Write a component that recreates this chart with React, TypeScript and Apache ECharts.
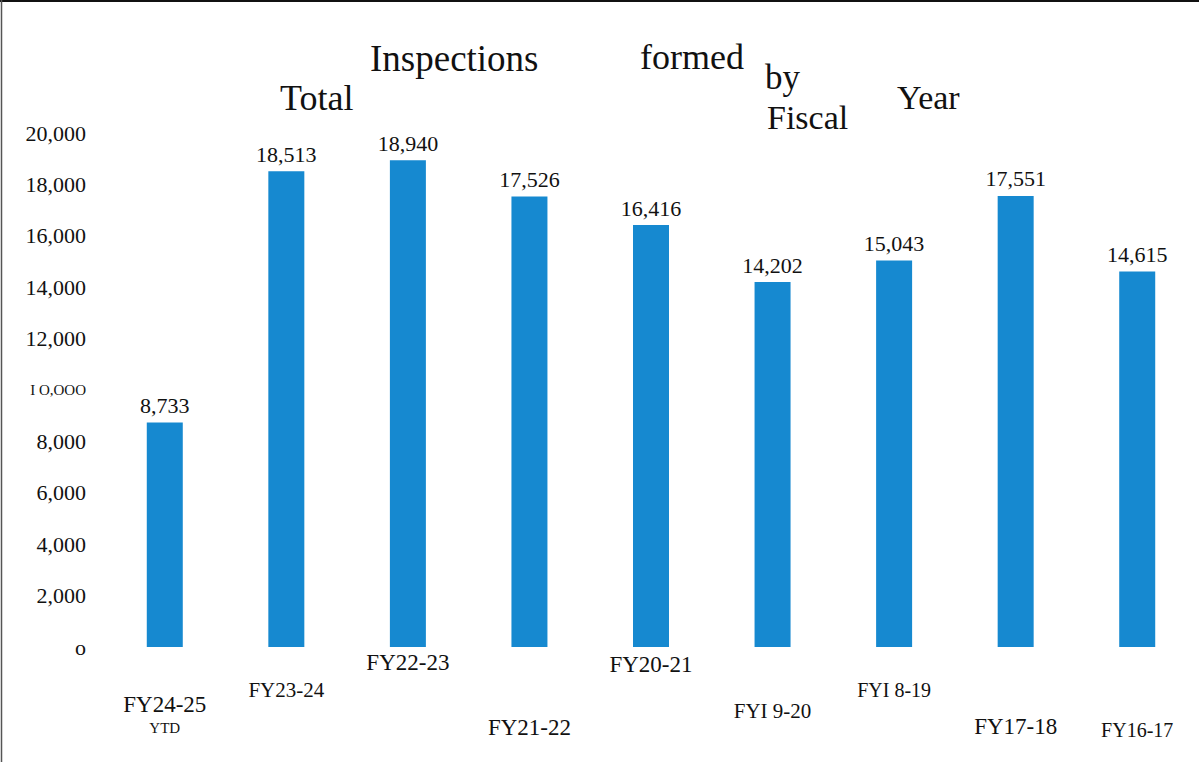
import React, { useEffect, useRef } from "react";
import * as echarts from "echarts";

const categories = ["FY24-25", "FY23-24", "FY22-23", "FY21-22", "FY20-21", "FYI 9-20", "FYI 8-19", "FY17-18", "FY16-17"];
const inspections = [8733, 18513, 18940, 17526, 16416, 14202, 15043, 17551, 14615];
const valueLabels = ["8,733", "18,513", "18,940", "17,526", "16,416", "14,202", "15,043", "17,551", "14,615"];
const yTickLabels = ["o", "2,000", "4,000", "6,000", "8,000", "I O,OOO", "12,000", "14,000", "16,000", "18,000", "20,000"];
const subNote = "YTD";
const titleWords = ["Total", "Inspections", "formed", "by", "Fiscal", "Year"];

// styling only: vertical drop (px) and font size of each category label
const labelDrop = [59, 45, 17, 82, 19, 66, 46, 81, 86];
const labelSize = [23, 21, 23, 23, 23, 21, 20, 23, 20];

const FONT = "'Liberation Serif', 'DejaVu Serif', serif";

export default function App() {
  const ref = useRef<HTMLDivElement>(null);
  useEffect(() => {
    document.body.style.margin = "0";
    const chart = echarts.init(ref.current!, null, { renderer: "svg" });
    const rich: any = {
      ytd: { fontSize: 15, fontFamily: FONT, color: "#111", lineHeight: 22 },
    };
    categories.forEach((_, i) => {
      rich["c" + i] = {
        fontSize: labelSize[i],
        fontFamily: FONT,
        color: "#111",
        lineHeight: labelSize[i] + 2,
      };
      rich["s" + i] = { fontSize: 1, lineHeight: labelDrop[i] };
    });
    const titlePos = [
      { x: 280, y: 98, s: 36 },
      { x: 370, y: 58, s: 37 },
      { x: 640, y: 57, s: 36 },
      { x: 765, y: 77, s: 35 },
      { x: 767, y: 117, s: 34 },
      { x: 897, y: 97, s: 34 },
    ];
    chart.setOption({
      animation: false,
      backgroundColor: "#fff",
      grid: { left: 104, right: 1, top: 133, bottom: 115, containLabel: false },
      xAxis: {
        type: "category",
        data: categories,
        axisLine: { show: false },
        axisTick: { show: false },
        axisLabel: {
          interval: 0,
          margin: -14,
          verticalAlign: "top",
          formatter: (v: string, i: number) =>
            `{s${i}| }\n{c${i}|${v}}` + (i === 0 ? `\n{ytd|${subNote}}` : ""),
          rich,
        },
      },
      yAxis: {
        type: "value",
        min: 0,
        max: 20000,
        interval: 2000,
        axisLine: { show: false },
        axisTick: { show: false },
        splitLine: { show: false },
        axisLabel: {
          margin: 18,
          fontFamily: FONT,
          fontSize: 22,
          color: "#111",
          formatter: (v: number) => {
            const t = yTickLabels[Math.round(v / 2000)];
            return v === 10000 ? `{s|${t}}` : t;
          },
          rich: { s: { fontSize: 15, fontFamily: FONT, color: "#111" } },
        },
      },
      series: [
        {
          type: "bar",
          data: inspections,
          barWidth: 36,
          itemStyle: { color: "#1689D0" },
          label: {
            show: true,
            position: "top",
            distance: 6,
            fontFamily: FONT,
            fontSize: 22,
            color: "#111",
            formatter: (p: any) => valueLabels[p.dataIndex],
          },
        },
      ],
      graphic: [
        ...titleWords.map((w, i) => ({
          type: "text",
          x: titlePos[i].x,
          y: titlePos[i].y,
          style: {
            text: w,
            fontFamily: FONT,
            fontSize: titlePos[i].s,
            fill: "#111",
            textAlign: "left",
            textVerticalAlign: "middle",
          },
        })),
        { type: "line", shape: { x1: 0, y1: 1, x2: 1199, y2: 1 }, style: { stroke: "#111", lineWidth: 2 } },
        { type: "line", shape: { x1: 1.5, y1: 0, x2: 1.5, y2: 762 }, style: { stroke: "#555", lineWidth: 1.5 } },
      ],
    });
    return () => chart.dispose();
  }, []);
  return <div ref={ref} style={{ width: 1199, height: 762 }} />;
}
